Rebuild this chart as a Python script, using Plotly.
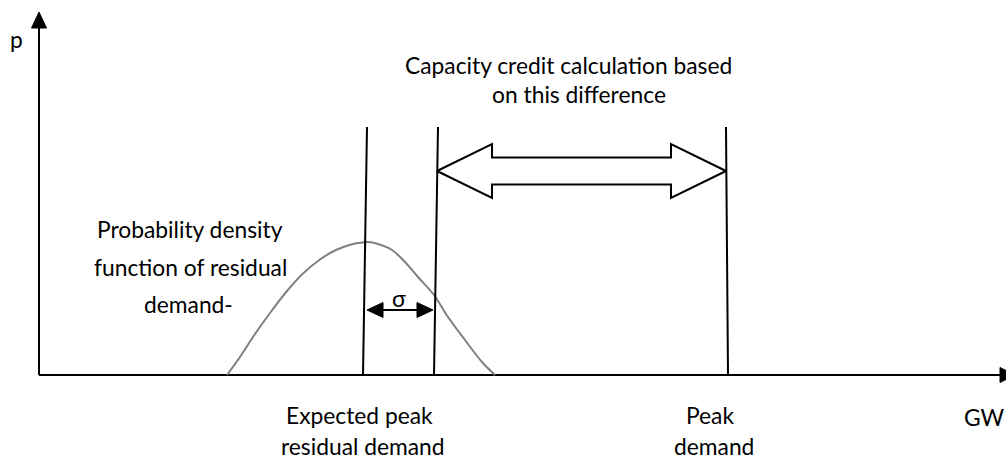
import plotly.graph_objects as go

# ---- data (positions in the diagram's own pixel-like units, y grows downward) ----
# probability density curve of residual demand
curve_x = [227, 240, 253, 270, 287, 303, 320, 337, 353, 363, 368, 378, 392, 405, 418, 434, 448, 465, 482, 495]
curve_y = [375, 357, 337, 313, 291, 273.5, 259.5, 249.5, 244, 242.5, 242, 244, 250, 262, 277, 295, 317, 340, 362, 375]

# axes
origin = (39, 375)
y_axis_top = 27
x_axis_end = 1001

# vertical marker lines: (x_top, x_bottom)
line_expected = (367, 363)
line_sigma = (438, 434)
line_peak = (726, 728)
line_top_y = 127

# double arrow (difference)
darrow_left, darrow_right = 437, 726
darrow_y = 171
darrow_head_len = 55
darrow_head_half = 27
darrow_shaft_half = 13.5

# sigma arrow
sigma_left, sigma_right, sigma_y = 367, 433, 310

# labels: (text, x, y_middle)
labels = [
    ("Capacity credit calculation based", 568, 65),
    ("on this difference", 579, 94),
    ("Probability density", 190, 229),
    ("function of residual", 190, 267),
    ("demand-", 188, 304),
    ("Expected peak", 359, 415),
    ("residual demand", 363, 446),
    ("Peak", 710, 415),
    ("demand", 714, 446),
    ("GW", 984, 417),
    ("p", 16, 39),
    ("σ", 398.5, 298),
]

FONT = "Lato"
FS = 22.8

fig = go.Figure()

black = dict(color="black", width=2)

# axes lines
fig.add_trace(go.Scatter(x=[origin[0], origin[0]], y=[origin[1], y_axis_top], mode="lines", line=black))
fig.add_trace(go.Scatter(x=[origin[0], x_axis_end], y=[origin[1], origin[1]], mode="lines", line=black))
# axis arrowheads
fig.add_trace(go.Scatter(x=[origin[0], origin[0] - 7.5, origin[0] + 7.5, origin[0]],
                         y=[12, y_axis_top + 1, y_axis_top + 1, 12],
                         mode="lines", fill="toself", fillcolor="black", line=dict(color="black", width=1)))
fig.add_trace(go.Scatter(x=[x_axis_end - 1, x_axis_end - 1, x_axis_end + 14, x_axis_end - 1],
                         y=[origin[1] - 7.5, origin[1] + 7.5, origin[1], origin[1] - 7.5],
                         mode="lines", fill="toself", fillcolor="black", line=dict(color="black", width=1)))

# density curve
fig.add_trace(go.Scatter(x=curve_x, y=curve_y, mode="lines",
                         line=dict(color="#808080", width=2, shape="spline", smoothing=1.0)))

# vertical lines
for xt, xb in (line_expected, line_sigma, line_peak):
    fig.add_trace(go.Scatter(x=[xt, xb], y=[line_top_y, origin[1]], mode="lines", line=black))

# double arrow polygon
L, R, Y = darrow_left, darrow_right, darrow_y
hl, hh, sh = darrow_head_len, darrow_head_half, darrow_shaft_half
da_x = [L, L + hl, L + hl, R - hl, R - hl, R, R - hl, R - hl, L + hl, L + hl, L]
da_y = [Y, Y - hh, Y - sh, Y - sh, Y - hh, Y, Y + hh, Y + sh, Y + sh, Y + hh, Y]
fig.add_trace(go.Scatter(x=da_x, y=da_y, mode="lines", fill="toself", fillcolor="white", line=black))

# sigma arrow
fig.add_trace(go.Scatter(x=[sigma_left + 14, sigma_right - 14], y=[sigma_y, sigma_y], mode="lines", line=black))
fig.add_trace(go.Scatter(x=[sigma_left, sigma_left + 16, sigma_left + 16, sigma_left],
                         y=[sigma_y, sigma_y - 7.5, sigma_y + 7.5, sigma_y],
                         mode="lines", fill="toself", fillcolor="black", line=dict(color="black", width=1)))
fig.add_trace(go.Scatter(x=[sigma_right, sigma_right - 16, sigma_right - 16, sigma_right],
                         y=[sigma_y, sigma_y - 7.5, sigma_y + 7.5, sigma_y],
                         mode="lines", fill="toself", fillcolor="black", line=dict(color="black", width=1)))

for text, x, y in labels:
    fig.add_annotation(x=x, y=y, text=text, showarrow=False, xanchor="center", yanchor="middle",
                       font=dict(family=FONT, size=FS, color="black"))

fig.update_layout(
    width=1006, height=465,
    margin=dict(l=0, r=0, t=0, b=0),
    paper_bgcolor="white", plot_bgcolor="white",
    showlegend=False,
    xaxis=dict(range=[0, 1006], visible=False, fixedrange=True),
    yaxis=dict(range=[465, 0], visible=False, fixedrange=True),
)

fig.write_html("out.html", config={"displayModeBar": False},
               post_script="document.body.style.margin='0';")
